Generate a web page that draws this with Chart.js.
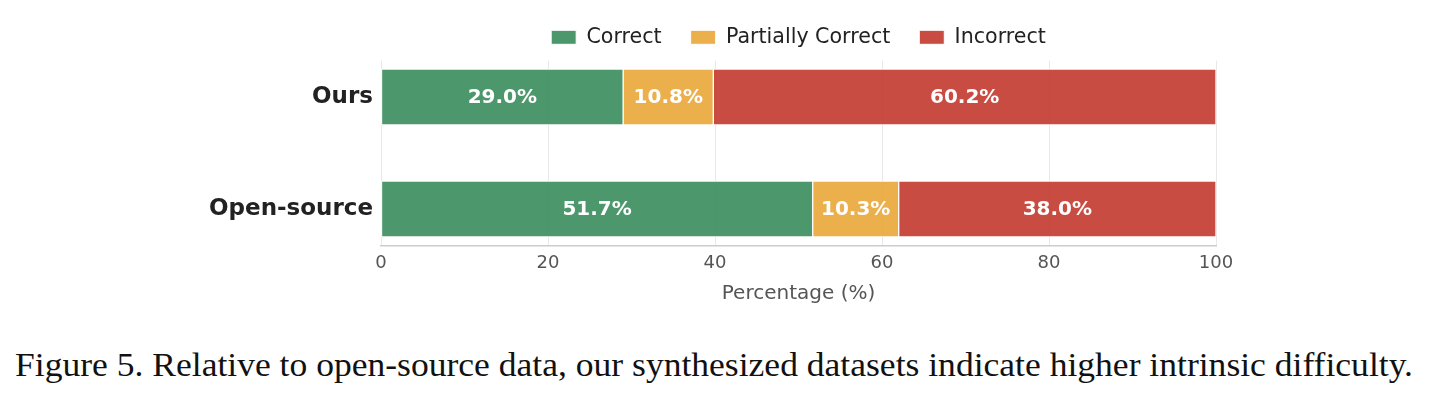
<!DOCTYPE html>
<html>
<head>
<meta charset="utf-8">
<script src="https://cdn.jsdelivr.net/npm/chart.js@4.4.0/dist/chart.umd.min.js"></script>
<style>
  html, body { margin: 0; padding: 0; background: #fff; }
  #wrap { position: relative; width: 1429px; height: 400px; overflow: hidden; }
  #chartBox { position: absolute; left: 0; top: 0; width: 1429px; height: 320px; }
  #caption {
    position: absolute; left: 15px; top: 349px;
    font-family: "Liberation Serif", "DejaVu Serif", serif;
    font-size: 33px; line-height: 33px; color: #111;
    white-space: nowrap; transform-origin: 0 0;
  }
</style>
</head>
<body>
<div id="wrap">
  <div id="chartBox"><canvas id="chart" width="1429" height="320"></canvas></div>
  <div id="caption">Figure 5. Relative to open-source data, our synthesized datasets indicate higher intrinsic difficulty.</div>
</div>
<script>
// 数据
const categories = ['Ours', 'Open-source'];
const seriesNames = ['Correct', 'Partially Correct', 'Incorrect'];
const correctVals = [29.0, 51.7];
const partialVals = [10.8, 10.3];
const incorrectVals = [60.2, 38.0];
const xTicks = [0, 20, 40, 60, 80, 100];

const colors = ['rgba(58,140,92,0.9)', 'rgba(233,167,57,0.9)', 'rgba(194,57,45,0.9)'];

function toPoints(vals) {
    return vals.map((v, i) => ({ x: v, y: i }));
}

// 段内数值标签
const barLabels = {
    id: 'barLabels',
    afterDatasetsDraw(chart) {
        const ctx = chart.ctx;
        ctx.save();
        ctx.font = 'bold 20px "DejaVu Sans"';
        ctx.fillStyle = '#ffffff';
        ctx.textAlign = 'center';
        ctx.textBaseline = 'middle';
        chart.data.datasets.forEach((ds, di) => {
            const meta = chart.getDatasetMeta(di);
            meta.data.forEach((bar, i) => {
                const p = bar.getProps(['x', 'y', 'base'], true);
                ctx.fillText(ds.data[i].x.toFixed(1) + '%', (p.x + p.base) / 2, p.y + 1);
            });
        });
        ctx.restore();
    }
};

// 图例高度固定，并居中于绘图区
const legendFix = {
    id: 'legendFix',
    beforeInit(chart) {
        const fit = chart.legend.fit;
        chart.legend.fit = function () {
            fit.bind(chart.legend)();
            this.height = 60.6;
        };
    },
    afterLayout(chart) {
        const lg = chart.legend;
        const area = chart.chartArea;
        lg.left = area.left;
        lg.right = area.right;
        lg.width = area.right - area.left;
        lg.top = -2;
        lg.bottom = lg.top + lg.height;
    }
};

const ctx = document.getElementById('chart').getContext('2d');
const chart = new Chart(ctx, {
    type: 'bar',
    data: {
        datasets: [
            { label: seriesNames[0], data: toPoints(correctVals), backgroundColor: colors[0] },
            { label: seriesNames[1], data: toPoints(partialVals), backgroundColor: colors[1] },
            { label: seriesNames[2], data: toPoints(incorrectVals), backgroundColor: colors[2] }
        ]
    },
    options: {
        indexAxis: 'y',
        responsive: false,
        animation: false,
        devicePixelRatio: 1,
        layout: { padding: { left: 0, right: 213, top: 0, bottom: 0 } },
        datasets: {
            bar: {
                barThickness: 56,
                borderColor: '#ffffff',
                borderWidth: 1,
                borderSkipped: false
            }
        },
        scales: {
            x: {
                type: 'linear',
                stacked: true,
                min: 0,
                max: 100,
                afterBuildTicks: (scale) => { scale.ticks = xTicks.map(v => ({ value: v })); },
                afterFit: (scale) => { scale.height = 320 - 245.4; },
                grid: { color: '#e8e8e8', lineWidth: 1, drawTicks: false },
                border: { display: true, color: '#cccccc', width: 1.5 },
                ticks: {
                    padding: 7,
                    color: '#555555',
                    font: { family: 'DejaVu Sans', size: 18 }
                },
                title: {
                    display: true,
                    text: 'Percentage (%)',
                    color: '#555555',
                    font: { family: 'DejaVu Sans', size: 20 },
                    padding: { top: 4, bottom: 14 }
                }
            },
            y: {
                type: 'linear',
                stacked: true,
                reverse: true,
                offset: false,
                min: -0.325,
                max: 1.325,
                afterBuildTicks: (scale) => { scale.ticks = categories.map((c, i) => ({ value: i })); },
                afterFit: (scale) => { scale.width = 381; },
                grid: { display: false, drawTicks: false, offset: false },
                border: { display: false },
                ticks: {
                    padding: 8,
                    color: '#222222',
                    font: { family: 'DejaVu Sans', size: 23, weight: 'bold' },
                    callback: (v) => categories[v]
                }
            }
        },
        plugins: {
            legend: {
                position: 'top',
                labels: {
                    boxWidth: 25,
                    boxHeight: 14,
                    padding: 29,
                    color: '#222222',
                    font: { family: 'DejaVu Sans', size: 20.6 }
                }
            },
            tooltip: { enabled: false }
        }
    },
    plugins: [barLabels, legendFix]
});

// 标题宽度适配
const cap = document.getElementById('caption');
const mctx = document.createElement('canvas').getContext('2d');
mctx.font = '33px "Liberation Serif"';
const w = mctx.measureText(cap.textContent).width;
cap.style.transform = 'scaleX(' + (1398 / w) + ')';
</script>
</body>
</html>
